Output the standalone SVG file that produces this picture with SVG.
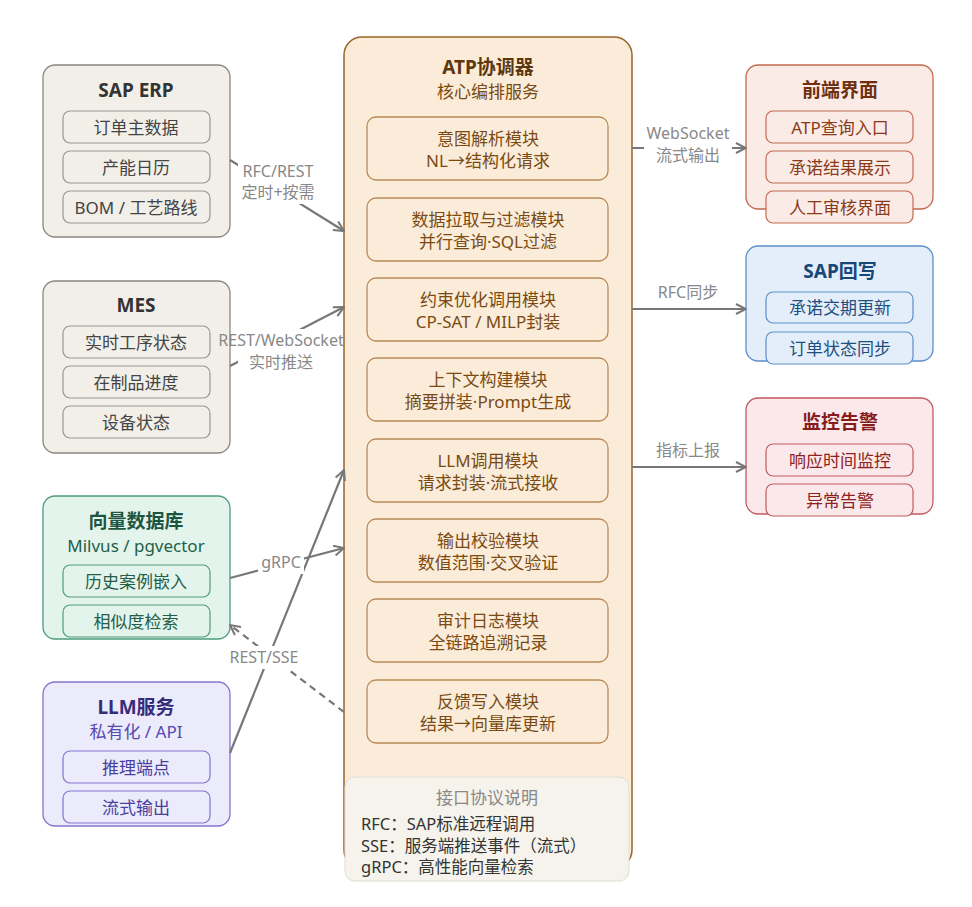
<svg xmlns="http://www.w3.org/2000/svg" width="972" height="907" viewBox="0 0 972 907">
<defs>
<marker id="arr" viewBox="0 0 12 12" refX="11" refY="6" markerWidth="12" markerHeight="12" markerUnits="userSpaceOnUse" orient="auto">
<path d="M1,1 L11,6 L1,11" fill="none" stroke="#777" stroke-width="2"/>
</marker>
</defs>
<style>
text{font-family:"Noto Sans","Noto Sans CJK SC",sans-serif;text-anchor:middle;dominant-baseline:central}
.t{font-size:19px;font-weight:bold}
.s{font-size:17px}
.i{font-size:17px}
.m{font-size:17px;fill:#7a4a12}
.lbl{font-size:16px;fill:#888}
.lg{font-size:16.5px;fill:#333;text-anchor:start}
.halo{fill:#fff}
.line{stroke:#777;stroke-width:2.2;fill:none}
.box{stroke-width:1.3}
</style>
<rect width="972" height="907" fill="#fff"/>

<g id="atp">
<rect x="344" y="37" width="288" height="831" rx="18" fill="#fbecd9" stroke="#9a6428" stroke-width="1.5"/>
<text x="488" y="67" class="t" fill="#5e370d">ATP协调器</text>
<text x="488" y="91" class="s" fill="#7a4a12">核心编排服务</text>
<g fill="#fbecd9" stroke="#b98a58" stroke-width="1.3">
<rect x="367" y="117" width="241" height="63" rx="9"/>
<rect x="367" y="198" width="241" height="63" rx="9"/>
<rect x="367" y="278" width="241" height="63" rx="9"/>
<rect x="367" y="358" width="241" height="63" rx="9"/>
<rect x="367" y="439" width="241" height="63" rx="9"/>
<rect x="367" y="519" width="241" height="63" rx="9"/>
<rect x="367" y="599" width="241" height="63" rx="9"/>
<rect x="367" y="680" width="241" height="63" rx="9"/>
</g>
<text x="488" y="138" class="m">意图解析模块</text>
<text x="488" y="160" class="m">NL→结构化请求</text>
<text x="488" y="219" class="m">数据拉取与过滤模块</text>
<text x="488" y="241" class="m">并行查询·SQL过滤</text>
<text x="488" y="299" class="m">约束优化调用模块</text>
<text x="488" y="321" class="m">CP-SAT / MILP封装</text>
<text x="488" y="379" class="m">上下文构建模块</text>
<text x="488" y="401" class="m">摘要拼装·Prompt生成</text>
<text x="488" y="460" class="m">LLM调用模块</text>
<text x="488" y="482" class="m">请求封装·流式接收</text>
<text x="488" y="540" class="m">输出校验模块</text>
<text x="488" y="562" class="m">数值范围·交叉验证</text>
<text x="488" y="620" class="m">审计日志模块</text>
<text x="488" y="642" class="m">全链路追溯记录</text>
<text x="488" y="701" class="m">反馈写入模块</text>
<text x="488" y="723" class="m">结果→向量库更新</text>
</g>

<g id="legend">
<rect x="345" y="777" width="284" height="104" rx="10" fill="#f5f3ec" stroke="#e0ddd4" stroke-width="1"/>
<text x="487" y="797" style="font-size:17px" fill="#888">接口协议说明</text>
<text x="361" y="823" class="lg">RFC：SAP标准远程调用</text>
<text x="361" y="845" class="lg">SSE：服务端推送事件（流式）</text>
<text x="361" y="866" class="lg">gRPC：高性能向量检索</text>
</g>

<g id="sap-erp">
<rect x="43" y="65" width="187" height="172" rx="12" fill="#f2efe8" stroke="#8c8781" class="box"/>
<text x="136" y="90" class="t" fill="#333">SAP ERP</text>
<g fill="#f2efe8" stroke="#9a958f" stroke-width="1.2">
<rect x="63" y="111" width="147" height="32" rx="7"/>
<rect x="63" y="151" width="147" height="32" rx="7"/>
<rect x="63" y="191" width="147" height="32" rx="7"/>
</g>
<text x="136" y="127" class="i" fill="#444">订单主数据</text>
<text x="136" y="167" class="i" fill="#444">产能日历</text>
<text x="136" y="207" class="i" fill="#444">BOM / 工艺路线</text>
</g>

<g id="mes">
<rect x="43" y="281" width="187" height="172" rx="12" fill="#f2efe8" stroke="#8c8781" class="box"/>
<text x="136" y="305" class="t" fill="#333">MES</text>
<g fill="#f2efe8" stroke="#9a958f" stroke-width="1.2">
<rect x="63" y="326" width="147" height="32" rx="7"/>
<rect x="63" y="366" width="147" height="32" rx="7"/>
<rect x="63" y="406" width="147" height="32" rx="7"/>
</g>
<text x="136" y="342" class="i" fill="#444">实时工序状态</text>
<text x="136" y="382" class="i" fill="#444">在制品进度</text>
<text x="136" y="422" class="i" fill="#444">设备状态</text>
</g>

<g id="vectordb">
<rect x="43" y="496" width="187" height="143" rx="12" fill="#e3f4ec" stroke="#4f9c7e" class="box"/>
<text x="136" y="521" class="t" fill="#1c5641">向量数据库</text>
<text x="136" y="545" class="s" fill="#236048">Milvus / pgvector</text>
<g fill="#e3f4ec" stroke="#4f9c7e" stroke-width="1.2">
<rect x="63" y="565" width="147" height="32" rx="7"/>
<rect x="63" y="605" width="147" height="32" rx="7"/>
</g>
<text x="136" y="581" class="i" fill="#245e48">历史案例嵌入</text>
<text x="136" y="621" class="i" fill="#245e48">相似度检索</text>
</g>

<g id="llm">
<rect x="43" y="682" width="187" height="144" rx="12" fill="#ecebfb" stroke="#8375cf" class="box"/>
<text x="136" y="707" class="t" fill="#352c7a">LLM服务</text>
<text x="136" y="731" class="s" fill="#5548b0">私有化 / API</text>
<g fill="#ecebfb" stroke="#8375cf" stroke-width="1.2">
<rect x="63" y="751" width="147" height="32" rx="7"/>
<rect x="63" y="791" width="147" height="32" rx="7"/>
</g>
<text x="136" y="767" class="i" fill="#4a3fa0">推理端点</text>
<text x="136" y="807" class="i" fill="#4a3fa0">流式输出</text>
</g>

<g id="frontend">
<rect x="746" y="65" width="187" height="144" rx="12" fill="#faebe6" stroke="#c26a4e" class="box"/>
<text x="840" y="90" class="t" fill="#6e300e">前端界面</text>
<g fill="#faebe6" stroke="#c26a4e" stroke-width="1.2">
<rect x="766" y="111" width="147" height="32" rx="7"/>
<rect x="766" y="151" width="147" height="32" rx="7"/>
<rect x="766" y="191" width="147" height="32" rx="7"/>
</g>
<text x="840" y="127" class="i" fill="#8a3a18">ATP查询入口</text>
<text x="840" y="167" class="i" fill="#8a3a18">承诺结果展示</text>
<text x="840" y="207" class="i" fill="#8a3a18">人工审核界面</text>
</g>

<g id="sap-write">
<rect x="746" y="246" width="187" height="115" rx="12" fill="#e3eefa" stroke="#5c8fcb" class="box"/>
<text x="840" y="271" class="t" fill="#174777">SAP回写</text>
<g fill="#e3eefa" stroke="#5c8fcb" stroke-width="1.2">
<rect x="766" y="292" width="147" height="31" rx="7"/>
<rect x="766" y="332" width="147" height="32" rx="7"/>
</g>
<text x="840" y="307" class="i" fill="#1f4f80">承诺交期更新</text>
<text x="840" y="348" class="i" fill="#1f4f80">订单状态同步</text>
</g>

<g id="monitor">
<rect x="746" y="398" width="187" height="116" rx="12" fill="#fbe8ea" stroke="#c25a5e" class="box"/>
<text x="840" y="422" class="t" fill="#861c1c">监控告警</text>
<g fill="#fbe8ea" stroke="#c25a5e" stroke-width="1.2">
<rect x="766" y="444" width="147" height="32" rx="7"/>
<rect x="766" y="484" width="147" height="32" rx="7"/>
</g>
<text x="840" y="460" class="i" fill="#8e2222">响应时间监控</text>
<text x="840" y="500" class="i" fill="#8e2222">异常告警</text>
</g>

<g id="connectors">
<path class="line" d="M230,160 L344,231" marker-end="url(#arr)"/>
<path class="line" d="M230,366 L344,307" marker-end="url(#arr)"/>
<path class="line" d="M230,578 L344,548" marker-end="url(#arr)"/>
<path class="line" d="M230,753 L344,470" marker-end="url(#arr)"/>
<path class="line" d="M344,712 L230,625" stroke-dasharray="7,5" marker-end="url(#arr)"/>
<path class="line" d="M632,148 L746,148" marker-end="url(#arr)"/>
<path class="line" d="M632,309 L746,309" marker-end="url(#arr)"/>
<path class="line" d="M632,467 L746,467" marker-end="url(#arr)"/>
<rect class="halo" x="238" y="160" width="82" height="44"/>
<text x="278" y="171" class="lbl">RFC/REST</text>
<text x="278" y="192" class="lbl">定时+按需</text>
<rect class="halo" x="238" y="329" width="84" height="45"/>
<text x="281" y="340" class="lbl">REST/WebSocket</text>
<text x="281" y="362" class="lbl">实时推送</text>
<rect class="halo" x="258" y="550" width="46" height="24"/>
<text x="281" y="562" class="lbl">gRPC</text>
<rect class="halo" x="226" y="646" width="76" height="23"/>
<text x="264" y="657" class="lbl">REST/SSE</text>
<rect class="halo" x="644" y="122" width="88" height="44"/>
<text x="688" y="133" class="lbl">WebSocket</text>
<text x="688" y="155" class="lbl">流式输出</text>
<text x="688" y="292" class="lbl">RFC同步</text>
<text x="688" y="450" class="lbl">指标上报</text>
</g>
</svg>
